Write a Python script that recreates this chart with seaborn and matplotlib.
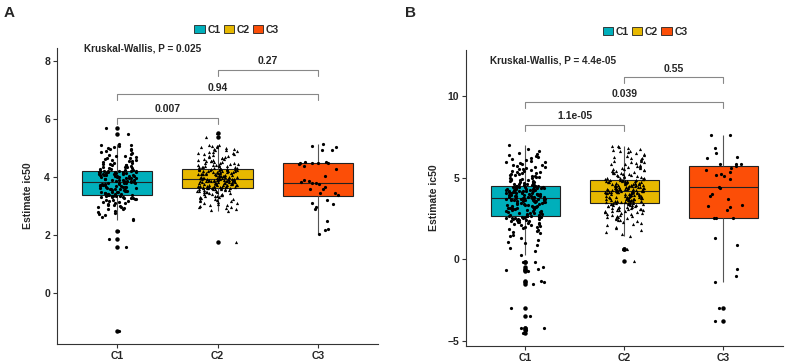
import numpy as np
import pandas as pd
import matplotlib
matplotlib.use('Agg')
import matplotlib.pyplot as plt
import seaborn as sns
from matplotlib.patches import Patch

groups = ['C1', 'C2', 'C3']
palette = {'C1': '#00AFBB', 'C2': '#E7B800', 'C3': '#FC4E07'}

# panel A values (Estimate ic50)
a_c1 = [-1.3, 1.59, 1.86, 2.13,
        2.52, 2.55, 2.61, 2.68, 2.72, 2.77, 2.8, 2.84, 2.88, 2.9, 2.93, 2.96, 2.98, 3.01, 3.03,
        3.05, 3.08, 3.1, 3.11, 3.13, 3.15, 3.16, 3.18, 3.2, 3.21, 3.23, 3.24, 3.26, 3.27, 3.28,
        3.3, 3.31, 3.32, 3.33, 3.34, 3.35, 3.36, 3.36, 3.37, 3.38, 3.38,
        3.39, 3.4, 3.41, 3.42, 3.43, 3.45, 3.46, 3.47, 3.48, 3.49, 3.5, 3.51, 3.52, 3.53, 3.54,
        3.55, 3.56, 3.57, 3.58, 3.59, 3.6, 3.61, 3.62, 3.63, 3.64, 3.65, 3.66, 3.67, 3.68, 3.69,
        3.7, 3.71, 3.72, 3.73, 3.74, 3.75, 3.76, 3.77, 3.78, 3.79, 3.8, 3.8, 3.81, 3.82, 3.82,
        3.84, 3.85, 3.85, 3.86, 3.88, 3.89, 3.9, 3.9, 3.91, 3.93, 3.94, 3.95, 3.96, 3.97, 3.98,
        3.99, 4.0, 4.01, 4.02, 4.02, 4.03, 4.05, 4.06, 4.07, 4.08, 4.08, 4.09, 4.1, 4.11, 4.12,
        4.13, 4.14, 4.14, 4.15, 4.16, 4.17, 4.17, 4.18, 4.19, 4.19, 4.2, 4.2, 4.21, 4.21, 4.21,
        4.22, 4.23, 4.25, 4.26, 4.28, 4.3, 4.31, 4.33, 4.35, 4.36, 4.38, 4.4, 4.41, 4.43, 4.45,
        4.46, 4.48, 4.5, 4.52, 4.54, 4.56, 4.58, 4.6, 4.62, 4.64, 4.66, 4.69, 4.71, 4.74, 4.77,
        4.8, 4.83, 4.86, 4.89, 4.92, 4.95, 4.98, 5.01, 5.04, 5.07, 5.1, 5.12, 5.14, 5.47, 5.68]
a_c2 = [1.75,
        2.84, 2.87, 2.9, 2.93, 2.95, 2.98, 3.0, 3.03, 3.05, 3.08, 3.1, 3.12, 3.14, 3.16, 3.18,
        3.2, 3.22, 3.24, 3.25, 3.27, 3.29, 3.3, 3.32, 3.33, 3.35, 3.36, 3.38, 3.39, 3.4, 3.42,
        3.43, 3.44, 3.45, 3.47, 3.48, 3.49, 3.5, 3.51, 3.52, 3.53, 3.54, 3.55, 3.56, 3.57, 3.58,
        3.59, 3.6, 3.6, 3.61, 3.61, 3.62, 3.62, 3.63, 3.63,
        3.64, 3.64, 3.65, 3.65, 3.66, 3.66, 3.67, 3.67, 3.68, 3.69, 3.69, 3.7, 3.7, 3.71, 3.72,
        3.72, 3.73, 3.74, 3.74, 3.75, 3.76, 3.76, 3.77, 3.78, 3.78, 3.79, 3.8, 3.8, 3.81, 3.82,
        3.82, 3.83, 3.84, 3.84, 3.85, 3.85, 3.86, 3.86, 3.87, 3.87, 3.88, 3.88, 3.89, 3.89, 3.9,
        3.9, 3.9, 3.91, 3.91, 3.91, 3.92, 3.92, 3.92, 3.92, 3.93,
        3.94, 3.94, 3.95, 3.96, 3.96, 3.97, 3.98, 3.98, 3.99, 4.0, 4.0, 4.01, 4.02, 4.03, 4.03,
        4.04, 4.05, 4.06, 4.06, 4.07, 4.08, 4.09, 4.09, 4.1, 4.11, 4.12, 4.12, 4.13, 4.14, 4.15,
        4.15, 4.16, 4.17, 4.18, 4.18, 4.19, 4.2, 4.2, 4.21, 4.22, 4.22, 4.23, 4.24, 4.24, 4.25,
        4.25, 4.26, 4.26, 4.27, 4.27, 4.28, 4.28, 4.29, 4.29, 4.29,
        4.3, 4.31, 4.32, 4.33, 4.34, 4.35, 4.36, 4.37, 4.38, 4.39, 4.4, 4.41, 4.42, 4.43, 4.45,
        4.46, 4.47, 4.48, 4.5, 4.51, 4.52, 4.54, 4.55, 4.57, 4.58, 4.6, 4.61, 4.63, 4.65, 4.66,
        4.68, 4.7, 4.72, 4.74, 4.76, 4.78, 4.8, 4.82, 4.84, 4.86, 4.88, 4.9, 4.92, 4.94, 4.96,
        4.98, 5.0, 5.02, 5.04, 5.06, 5.08, 5.1, 5.12, 5.38, 5.53]
a_c3 = [2.02, 2.16, 2.2, 2.5, 2.88, 2.95, 3.08, 3.12, 3.21, 3.38, 3.44, 3.45, 3.58, 3.6, 3.67,
        3.76, 3.78, 3.8, 3.82, 3.86, 3.89, 4.04, 4.27, 4.39, 4.46, 4.48, 4.49, 4.5, 4.5, 4.51,
        4.53, 4.93, 4.94, 5.03, 5.07, 5.13]

# panel B values (Estimate ic50)
b_c1 = [-4.5, -4.31, -4.19, -4.17, -3.44, -2.97, -1.49, -1.4, -1.3, -0.69, -0.65, -0.57, -0.47,
        -0.18, -0.18,
        0.26, 0.5, 0.72, 0.9, 1.0, 1.08, 1.18, 1.3, 1.42, 1.5, 1.6, 1.65, 1.72, 1.78, 1.85,
        1.9, 1.95, 2.0, 2.04, 2.08, 2.12, 2.15, 2.18, 2.21, 2.24, 2.27, 2.3, 2.33, 2.35, 2.38,
        2.4, 2.42, 2.44, 2.46, 2.48, 2.5, 2.52, 2.54, 2.55, 2.57, 2.58, 2.6, 2.61, 2.62, 2.63,
        2.64, 2.65, 2.67, 2.7, 2.72, 2.73, 2.76, 2.78, 2.81, 2.83, 2.85, 2.86, 2.89, 2.91, 2.93,
        2.96, 2.98, 3.0, 3.03, 3.05, 3.07, 3.09, 3.11, 3.13, 3.15, 3.17, 3.19, 3.21, 3.23, 3.25,
        3.27, 3.29, 3.31, 3.33, 3.35, 3.37, 3.39, 3.41, 3.43, 3.45, 3.47, 3.49, 3.51, 3.52, 3.54,
        3.56, 3.57, 3.59, 3.6, 3.61, 3.62, 3.63, 3.64, 3.65, 3.66, 3.67, 3.68, 3.69, 3.7, 3.71,
        3.73, 3.74, 3.75, 3.77, 3.78, 3.79, 3.8, 3.82, 3.83, 3.84, 3.86, 3.87, 3.88, 3.9, 3.91,
        3.92, 3.94, 3.95, 3.96, 3.98, 3.99, 4.0, 4.02, 4.03, 4.04, 4.06, 4.07, 4.08, 4.1, 4.11,
        4.12, 4.14, 4.15, 4.16, 4.18, 4.19, 4.2, 4.22, 4.23, 4.24, 4.26, 4.27, 4.28, 4.3, 4.31,
        4.32, 4.34, 4.35, 4.36, 4.38, 4.39, 4.4, 4.42, 4.43, 4.44, 4.45, 4.46, 4.47, 4.48, 4.49,
        4.5, 4.52, 4.54, 4.56, 4.58, 4.6, 4.63, 4.65, 4.67, 4.7, 4.72, 4.75, 4.77, 4.8, 4.82,
        4.85, 4.88, 4.9, 4.93, 4.96, 4.99, 5.02, 5.05, 5.08, 5.11, 5.14, 5.17, 5.2, 5.23, 5.26,
        5.3, 5.33, 5.36, 5.4, 5.43, 5.47, 5.5, 5.54, 5.58, 5.62, 5.66, 5.7, 5.74, 5.78, 5.82,
        5.87, 5.92, 5.97, 6.02, 6.07, 6.12, 6.18, 6.24, 6.3, 6.36, 6.43, 6.5, 6.6, 6.75, 6.99]
b_c2 = [-0.12, 0.65, 0.65,
        1.42, 1.55, 1.7, 1.8, 1.9, 2.0, 2.08, 2.15, 2.2, 2.26, 2.32, 2.38, 2.42, 2.46, 2.5,
        2.54, 2.58, 2.62, 2.65, 2.68, 2.71, 2.74, 2.77, 2.8, 2.83, 2.85, 2.87, 2.9, 2.92, 2.94,
        2.96, 2.98, 3.0, 3.02, 3.04, 3.06, 3.08, 3.1, 3.12, 3.14, 3.16, 3.18, 3.2, 3.22, 3.24,
        3.26, 3.28, 3.3, 3.32, 3.34, 3.35, 3.36, 3.37, 3.38, 3.4, 3.41, 3.42,
        3.43, 3.44, 3.46, 3.47, 3.48, 3.5, 3.51, 3.52, 3.54, 3.55, 3.56, 3.58, 3.59, 3.6, 3.62,
        3.63, 3.64, 3.66, 3.67, 3.68, 3.7, 3.71, 3.72, 3.74, 3.75, 3.76, 3.78, 3.79, 3.8, 3.82,
        3.83, 3.84, 3.86, 3.87, 3.88, 3.9, 3.91, 3.92, 3.94, 3.95, 3.96, 3.98, 3.99, 4.0, 4.02,
        4.03, 4.04, 4.06, 4.07, 4.08, 4.09, 4.1, 4.11, 4.11, 4.12, 4.13, 4.13, 4.14, 4.15, 4.15,
        4.17, 4.18, 4.19, 4.2, 4.21, 4.22, 4.23, 4.24, 4.25, 4.26, 4.27, 4.28, 4.29, 4.3, 4.31,
        4.32, 4.33, 4.35, 4.36, 4.37, 4.38, 4.39, 4.4, 4.41, 4.42, 4.44, 4.45, 4.46, 4.47, 4.48,
        4.5, 4.51, 4.52, 4.53, 4.54, 4.56, 4.57, 4.58, 4.59, 4.6, 4.62, 4.63, 4.64, 4.65, 4.66,
        4.68, 4.69, 4.7, 4.71, 4.72, 4.74, 4.75, 4.76, 4.77, 4.78, 4.8, 4.81, 4.82, 4.83, 4.84,
        4.85, 4.87, 4.89, 4.91, 4.93, 4.95, 4.97, 5.0, 5.02, 5.04, 5.07, 5.09, 5.12, 5.14, 5.17,
        5.2, 5.22, 5.25, 5.28, 5.3, 5.33, 5.36, 5.39, 5.42, 5.45, 5.48, 5.51, 5.54, 5.57, 5.6,
        5.63, 5.66, 5.7, 5.73, 5.77, 5.8, 5.84, 5.88, 5.92, 5.96, 6.0, 6.04, 6.08, 6.12, 6.17,
        6.22, 6.27, 6.32, 6.37, 6.42, 6.48, 6.54, 6.6, 6.65, 6.7, 6.75, 6.8, 6.85, 6.9, 6.93]
b_c3 = [7.6, 7.58, 6.8, 6.52, 6.26, 6.2, 5.85, 5.83, 5.83, 5.69, 5.61, 5.49, 5.34, 5.24, 5.14,
        5.08, 4.9, 4.43, 4.39, 4.0, 3.86, 3.68, 3.3, 3.29, 3.2, 3.0, 2.52, 2.5, 2.5, 1.3, 0.9,
        -0.61, -1.04, -1.4, -2.97, -3.78]

# comparisons: (group i, group j, p label)
a_tests = [('C1', 'C2', '0.007'), ('C1', 'C3', '0.94'), ('C2', 'C3', '0.27')]
b_tests = [('C1', 'C2', '1.1e-05'), ('C1', 'C3', '0.039'), ('C2', 'C3', '0.55')]
a_kw = 'Kruskal-Wallis, P = 0.025'
b_kw = 'Kruskal-Wallis, P = 4.4e-05'

sns.set_theme(style='white')
plt.rcParams['font.family'] = ['Liberation Sans', 'DejaVu Sans']
plt.rcParams['font.weight'] = 'bold'
np.random.seed(3)


def make_df(vals):
    rows = []
    for g, v in zip(groups, vals):
        rows += [(g, x) for x in v]
    return pd.DataFrame(rows, columns=['group', 'ic50'])


def panel(ax, df, tests, bracket_y, kw, kw_pos, ylim, yticks, legend_x, ylab_x):
    sns.boxplot(ax=ax, data=df, x='group', y='ic50', hue='group', order=groups,
                palette=palette, saturation=1, width=0.7, linewidth=0.8,
                linecolor='#222222', showcaps=False, legend=False,
                whiskerprops=dict(color='#555555', linewidth=0.8),
                flierprops=dict(marker='o', markersize=2.2, markerfacecolor='black',
                                markeredgecolor='black'))
    for g in groups:
        sub = df[df['group'] == g]
        sns.stripplot(ax=ax, data=sub, x='group', y='ic50', order=groups, color='black',
                      marker='^' if g == 'C2' else 'o', size=2.3, jitter=0.2,
                      linewidth=0, zorder=3)
    # significance brackets
    for (g1, g2, lab), (yb, dy, yt) in zip(tests, bracket_y):
        x1, x2 = groups.index(g1), groups.index(g2)
        ax.plot([x1, x1, x2, x2], [yb - dy, yb, yb, yb - dy], color='#888888', lw=0.8)
        ax.text((x1 + x2) / 2, yt, lab, ha='center', va='center', fontsize=7.5,
                fontweight='bold')
    ax.text(kw_pos[0], kw_pos[1], kw, ha='left', va='center', fontsize=7.2, fontweight='bold')
    ax.set_xlim(-0.6, 2.6)
    ax.set_ylim(*ylim)
    ax.set_yticks(yticks)
    ax.set_xlabel('')
    ax.set_ylabel('Estimate ic50', fontsize=7.5, fontweight='bold')
    ax.yaxis.set_label_coords(ylab_x, 0.5)
    for s in ['top', 'right']:
        ax.spines[s].set_visible(False)
    for s in ['left', 'bottom']:
        ax.spines[s].set_color('#333333')
        ax.spines[s].set_linewidth(0.8)
    ax.tick_params(axis='both', length=3, width=0.8, color='#333333', labelsize=7.5, pad=2,
                   left=True, bottom=True)
    for t in ax.get_xticklabels() + ax.get_yticklabels():
        t.set_fontweight('bold')
    handles = [Patch(facecolor=palette[g], edgecolor='#222222', linewidth=0.6, label=g)
               for g in groups]
    ax.legend(handles=handles, loc='center', bbox_to_anchor=(legend_x, 1.062), ncol=3,
              frameon=False, handlelength=1.0, handleheight=0.8, handletextpad=0.25,
              columnspacing=0.3, prop=dict(size=7.5, weight='bold'))


fig = plt.figure(figsize=(7.86, 3.64), dpi=100)
ax_a = fig.add_axes([0.0725, 0.055, 0.4085, 0.813])
ax_b = fig.add_axes([0.593, 0.0495, 0.403, 0.8135])

panel(ax_a, make_df([a_c1, a_c2, a_c3]), a_tests,
      [(6.02, 0.19, 6.34), (6.85, 0.19, 7.08), (7.68, 0.2, 7.99)],
      a_kw, (-0.33, 8.42), (-1.76, 8.45), [0, 2, 4, 6, 8], 0.56, -0.075)
panel(ax_b, make_df([b_c1, b_c2, b_c3]), b_tests,
      [(8.21, 0.37, 8.74), (9.63, 0.36, 10.1), (11.12, 0.37, 11.65)],
      b_kw, (-0.36, 12.15), (-5.29, 12.8), [-5, 0, 5, 10], 0.565, -0.085)

fig.text(0.004, 0.965, 'A', fontsize=11, fontweight='bold', va='center')
fig.text(0.515, 0.965, 'B', fontsize=11, fontweight='bold', va='center')

fig.savefig('out.png', dpi=100)
